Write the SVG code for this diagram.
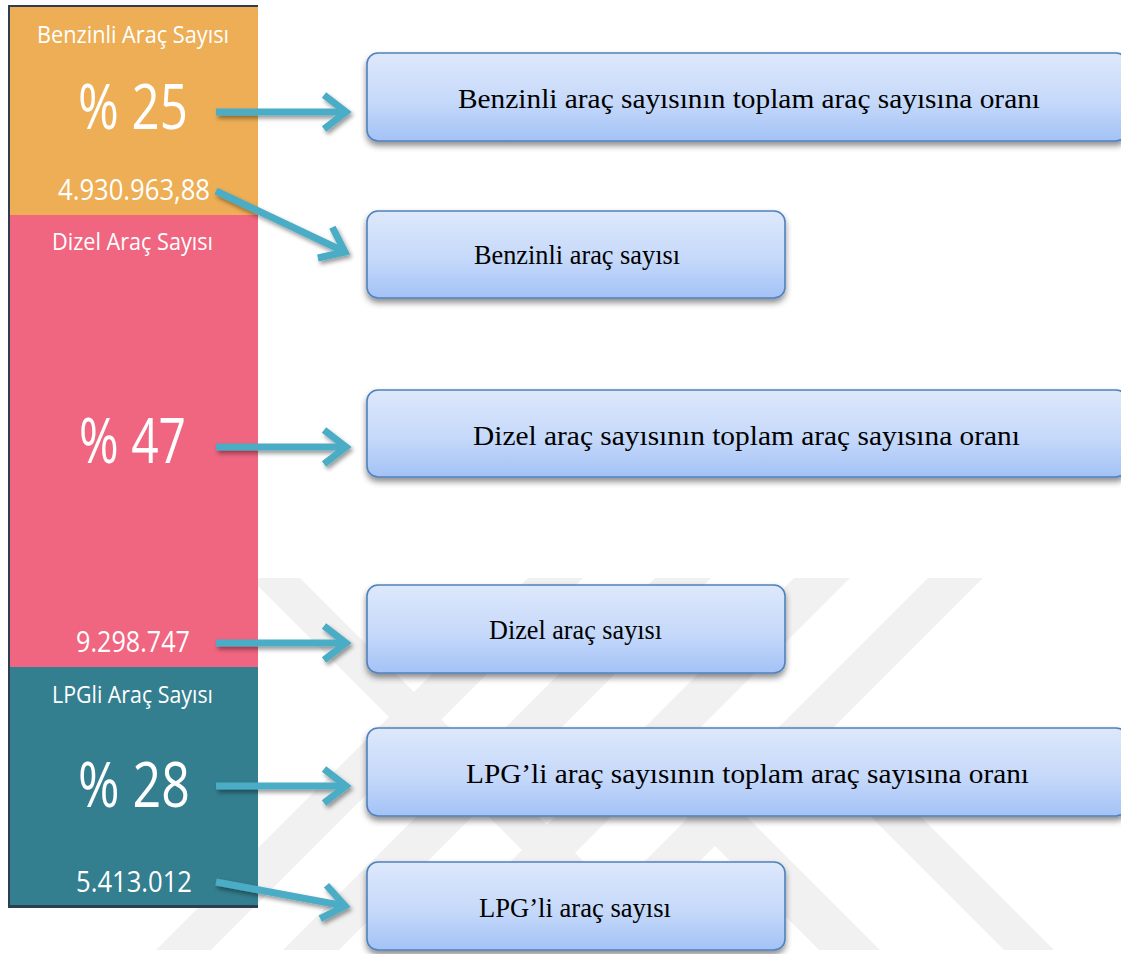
<svg xmlns="http://www.w3.org/2000/svg" width="1121" height="954" viewBox="0 0 1121 954">
<defs>
<linearGradient id="boxg" x1="0" y1="0" x2="0" y2="1">
<stop offset="0" stop-color="#dde8fb"/>
<stop offset="0.55" stop-color="#c6d9fa"/>
<stop offset="1" stop-color="#a3c2f6"/>
</linearGradient>
<filter id="bshadow" x="-5%" y="-20%" width="110%" height="150%">
<feDropShadow dx="0" dy="4" stdDeviation="3" flood-color="#000" flood-opacity="0.45"/>
</filter>
<filter id="ashadow" filterUnits="userSpaceOnUse" x="0" y="0" width="1121" height="954">
<feDropShadow dx="2" dy="3" stdDeviation="2" flood-color="#000" flood-opacity="0.4"/>
</filter>
<marker id="head" markerUnits="userSpaceOnUse" markerWidth="40" markerHeight="50" refX="0" refY="0" viewBox="-30 -25 40 50" orient="auto" overflow="visible">
<path d="M-22,-17 L0,0 L-22,17" fill="none" stroke="#4bacc6" stroke-width="7" stroke-linejoin="miter"/>
</marker>
<style>
.wm{fill:#f1f1f1}
.box{fill:url(#boxg);stroke:#4f81bd;stroke-width:1.6;filter:url(#bshadow)}
.bt{font-family:"Liberation Serif","Times New Roman",serif;font-size:28px;fill:#000}
.pt{font-family:"Open Sans","Noto Sans",sans-serif;fill:#fff}
.lab{font-size:24px}
.big{font-size:62px;font-weight:500}
.num{font-size:30px}
.arr{fill:none;stroke:#4bacc6;stroke-width:7;marker-end:url(#head)}
</style>
</defs>
<rect width="1121" height="954" fill="#fff"/>
<g id="watermark">
<polygon class="wm" points="528,578 583,578 211,950 156,950"/>
<polygon class="wm" points="655,578 711,578 339,950 283,950"/>
<polygon class="wm" points="794,578 850,578 478,950 422,950"/>
<polygon class="wm" points="928,578 983,578 611,950 556,950"/>
<polygon class="wm" points="250,578 300,578 672,950 622,950"/>
<polygon class="wm" points="599,730 660,730 880,950 819,950"/>
<polygon class="wm" points="814,760 864,760 1054,950 1004,950"/>
</g>
<g id="panel">
<rect x="8" y="5" width="250" height="903" fill="#2c3e50"/>
<rect x="10" y="7" width="248" height="208" fill="#edae55"/>
<rect x="10" y="215" width="248" height="452" fill="#f0657f"/>
<rect x="10" y="667" width="248" height="238" fill="#337e8f"/>
<text class="pt lab" x="37" y="43" textLength="192" lengthAdjust="spacingAndGlyphs">Benzinli Araç Sayısı</text>
<text class="pt big" x="78" y="129" textLength="110" lengthAdjust="spacingAndGlyphs">% 25</text>
<text class="pt num" x="58" y="200" textLength="152" lengthAdjust="spacingAndGlyphs">4.930.963,88</text>
<text class="pt lab" x="52" y="250" textLength="161" lengthAdjust="spacingAndGlyphs">Dizel Araç Sayısı</text>
<text class="pt big" x="79" y="463" textLength="107" lengthAdjust="spacingAndGlyphs">% 47</text>
<text class="pt num" x="76" y="652" textLength="114" lengthAdjust="spacingAndGlyphs">9.298.747</text>
<text class="pt lab" x="52" y="703" textLength="161" lengthAdjust="spacingAndGlyphs">LPGli Araç Sayısı</text>
<text class="pt big" x="78" y="807" textLength="112" lengthAdjust="spacingAndGlyphs">% 28</text>
<text class="pt num" x="76" y="892" textLength="116" lengthAdjust="spacingAndGlyphs">5.413.012</text>
</g>
<g id="connectors" filter="url(#ashadow)">
<path class="arr" d="M216,112 L346,112"/>
<path class="arr" d="M216,191 L345,252"/>
<path class="arr" d="M216,447 L346,447"/>
<path class="arr" d="M216,643 L346,643"/>
<path class="arr" d="M216,786 L346,786"/>
<path class="arr" d="M216,882 L345,906"/>
</g>
<g id="node1">
<rect class="box" x="367" y="53" width="760" height="88" rx="11"/>
<text class="bt" x="458" y="108" textLength="582" lengthAdjust="spacingAndGlyphs">Benzinli araç sayısının toplam araç sayısına oranı</text>
</g>
<g id="node2">
<rect class="box" x="367" y="211" width="418" height="87" rx="11"/>
<text class="bt" x="474" y="264" textLength="206" lengthAdjust="spacingAndGlyphs">Benzinli araç sayısı</text>
</g>
<g id="node3">
<rect class="box" x="367" y="390" width="760" height="87" rx="11"/>
<text class="bt" x="473" y="445" textLength="547" lengthAdjust="spacingAndGlyphs">Dizel araç sayısının toplam araç sayısına oranı</text>
</g>
<g id="node4">
<rect class="box" x="367" y="585" width="418" height="88" rx="11"/>
<text class="bt" x="489" y="639" textLength="173" lengthAdjust="spacingAndGlyphs">Dizel araç sayısı</text>
</g>
<g id="node5">
<rect class="box" x="367" y="728" width="760" height="88" rx="11"/>
<text class="bt" x="466" y="783" textLength="563" lengthAdjust="spacingAndGlyphs">LPG’li araç sayısının toplam araç sayısına oranı</text>
</g>
<g id="node6">
<rect class="box" x="367" y="862" width="418" height="88" rx="11"/>
<text class="bt" x="479" y="917" textLength="192" lengthAdjust="spacingAndGlyphs">LPG’li araç sayısı</text>
</g>
</svg>
